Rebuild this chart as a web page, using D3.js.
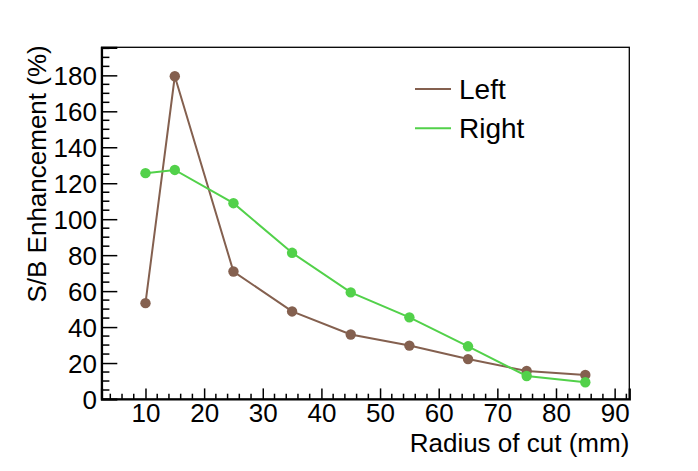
<!DOCTYPE html>
<html><head><meta charset="utf-8">
<script src="https://cdn.jsdelivr.net/npm/d3@7"></script>
<style>body{margin:0;background:#fff}svg{display:block}text{font-family:"Liberation Sans",Arial,sans-serif}</style>
</head><body><svg id="c" width="698" height="471"></svg>
<script>
const radii = [10, 15, 25, 35, 45, 55, 65, 75, 85];
const leftVals = [53.3, 179.5, 70.9, 48.7, 35.9, 29.7, 22.2, 15.6, 13.4];
const rightVals = [125.6, 127.4, 108.9, 81.3, 59.3, 45.4, 29.3, 12.8, 9.3];
const seriesNames = ["Left", "Right"];
const seriesColors = ["#84604f", "#52d14a"];
const xTicks = [10, 20, 30, 40, 50, 60, 70, 80, 90];
const yTicks = [0, 20, 40, 60, 80, 100, 120, 140, 160, 180];

const svg = d3.select("#c");
const L = 101.5, R = 629.3, T = 47.3, B = 399;
const x = d3.scaleLinear().domain([2.5, 92.5]).range([L, R]);
const y = d3.scaleLinear().domain([0, 195.6]).range([B, T]);
const W = R - L, H = B - T;
const FS = 26;

// frame
svg.append("rect").attr("x", L).attr("y", T).attr("width", W).attr("height", H)
  .attr("fill", "none").attr("stroke", "#000").attr("stroke-width", 1.3);

// x axis
const xMinor = d3.range(4, 93, 2).filter(v => v % 10 !== 0);
const xa = d3.axisBottom(x).tickValues(xTicks).tickSize(-10.6).tickPadding(4.5).tickFormat(d3.format("d"));
const gx = svg.append("g").attr("transform", `translate(0,${B})`).call(xa);
gx.select(".domain").attr("stroke-width", 2.2);
gx.selectAll(".tick line").attr("stroke-width", 1.5);
gx.selectAll(".tick text").attr("font-size", FS).attr("fill", "#000");
gx.selectAll(".minor").data(xMinor).enter().append("line")
  .attr("x1", d => x(d)).attr("x2", d => x(d)).attr("y1", 0).attr("y2", -5.3)
  .attr("stroke", "#000").attr("stroke-width", 1.5);

// y axis
const yMinor = d3.range(5, 196, 5).filter(v => v % 20 !== 0);
const ya = d3.axisLeft(y).tickValues(yTicks).tickSize(-15.8).tickPadding(4.5).tickFormat(d3.format("d"));
const gy = svg.append("g").attr("transform", `translate(${L},0)`).call(ya);
gy.select(".domain").attr("stroke-width", 2.2);
gy.selectAll(".tick line").attr("stroke-width", 1.5);
gy.selectAll(".tick text").attr("font-size", FS).attr("fill", "#000").attr("dy", "0.36em");
gy.selectAll(".minor").data(yMinor).enter().append("line")
  .attr("y1", d => y(d)).attr("y2", d => y(d)).attr("x1", 0).attr("x2", 7.9)
  .attr("stroke", "#000").attr("stroke-width", 1.5);

// axis titles
svg.append("text").attr("x", R).attr("y", 452).attr("text-anchor", "end")
  .attr("font-size", FS).text("Radius of cut (mm)");
svg.append("text").attr("transform", `translate(46,${T - 2}) rotate(-90)`).attr("text-anchor", "end")
  .attr("font-size", FS).text("S/B Enhancement (%)");

// series
const series = [leftVals, rightVals];
const line = d3.line().x((d, i) => x(radii[i])).y(d => y(d));
series.forEach((vals, k) => {
  svg.append("path").datum(vals).attr("d", line).attr("fill", "none")
    .attr("stroke", seriesColors[k]).attr("stroke-width", 2);
  svg.selectAll(".pt" + k).data(vals).enter().append("circle")
    .attr("cx", (d, i) => x(radii[i])).attr("cy", d => y(d)).attr("r", 5.2)
    .attr("fill", seriesColors[k]);
});

// legend
const legY = [89, 128.3];
seriesNames.forEach((name, k) => {
  svg.append("line").attr("x1", 415).attr("x2", 451).attr("y1", legY[k]).attr("y2", legY[k])
    .attr("stroke", seriesColors[k]).attr("stroke-width", 2);
  svg.append("text").attr("x", 459).attr("y", legY[k] + 9.5).attr("font-size", 28).text(name);
});
</script></body></html>
